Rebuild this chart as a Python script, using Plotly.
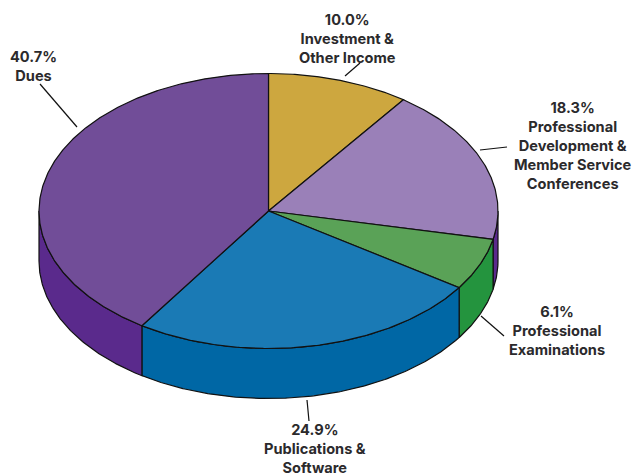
import numpy as np
import plotly.graph_objects as go

categories = ["Investment &<br>Other Income",
              "Professional<br>Development &<br>Member Service<br>Conferences",
              "Professional<br>Examinations",
              "Publications &<br>Software",
              "Dues"]
values = [10.0, 18.3, 6.1, 24.9, 40.7]
top_colors = ["#CDA73F", "#9A80B8", "#5AA257", "#1A7AB5", "#714D98"]
side_colors = ["#B08F30", "#5A2A8C", "#24943E", "#0067A5", "#5A2A8C"]
label_x = [347, 573, 557, 315, 33]
label_y = [39, 146, 331, 449, 66]
leaders = [((360, 63), (345, 76)), ((480, 150), (507, 147)), ((481, 316), (504, 336)),
           ((307, 400), (309, 421)), ((40, 84), (77, 127))]

CX, CY, RX, RY, DEPTH = 268.5, 211, 229.5, 137.5, 50
LINE = "#111111"


def rim(a0, a1, dy=0):
    t = np.radians(np.linspace(a0, a1, max(int(abs(a1 - a0) * 2), 2)))
    return CX + RX * np.sin(t), CY - RY * np.cos(t) + dy


fig = go.Figure()
edges = np.concatenate([[0], np.cumsum(values) * 3.6])

# sides, visible only on the front half of the ellipse
for i in range(len(values)):
    a0, a1 = max(edges[i], 90), min(edges[i + 1], 270)
    if a0 >= a1:
        continue
    x0, y0 = rim(a0, a1)
    x1, y1 = rim(a1, a0, DEPTH)
    fig.add_trace(go.Scatter(x=np.r_[x0, x1, x0[0]], y=np.r_[y0, y1, y0[0]], mode="lines",
                             fill="toself", fillcolor=side_colors[i],
                             line=dict(color=LINE, width=1.2), hoverinfo="skip"))

# top wedges
for i in range(len(values)):
    x0, y0 = rim(edges[i], edges[i + 1])
    fig.add_trace(go.Scatter(x=np.r_[CX, x0, CX], y=np.r_[CY, y0, CY], mode="lines",
                             fill="toself", fillcolor=top_colors[i],
                             line=dict(color=LINE, width=1.2), hoverinfo="skip"))

# leader lines
for (p, q) in leaders:
    fig.add_trace(go.Scatter(x=[p[0], q[0]], y=[p[1], q[1]], mode="lines",
                             line=dict(color=LINE, width=1.2), hoverinfo="skip"))

for i, cat in enumerate(categories):
    fig.add_annotation(x=label_x[i], y=label_y[i], xref="x", yref="y",
                       text=f"<b>{values[i]:.1f}%<br>{cat}</b>", showarrow=False,
                       align="center", xanchor="center", yanchor="middle",
                       font=dict(family="Inter", size=14.6, color="#2B2A2C"))

fig.update_layout(width=636, height=476, margin=dict(l=0, r=0, t=0, b=0),
                  paper_bgcolor="white", plot_bgcolor="white", showlegend=False,
                  xaxis=dict(range=[0, 636], visible=False, fixedrange=True),
                  yaxis=dict(range=[476, 0], visible=False, fixedrange=True))
fig.write_html("out.html", config={"displayModeBar": False},
               post_script="document.body.style.margin='0';document.body.style.overflow='hidden';")
